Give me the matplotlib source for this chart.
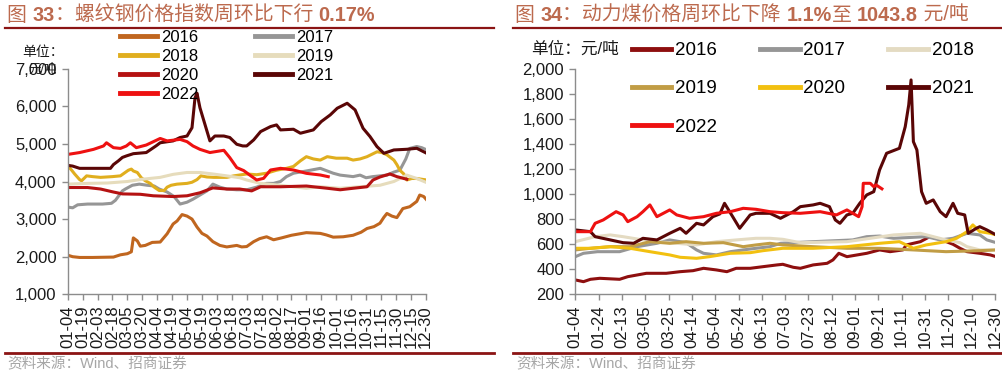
import numpy as np
import matplotlib
matplotlib.use('Agg')
from matplotlib import pyplot as plt
from matplotlib.lines import Line2D

plt.rcParams['font.family'] = ['Liberation Sans', 'Noto Sans CJK SC']

W, H = 1003, 376

# ---- data: 螺纹钢价格指数 (days counted from 01-04) ----
rebar_ticks = ['01-04', '01-19', '02-03', '02-18', '03-05', '03-20', '04-04', '04-19', '05-04',
               '05-19', '06-03', '06-18', '07-03', '07-18', '08-02', '08-17', '09-01', '09-16',
               '10-01', '10-16', '10-31', '11-15', '11-30', '12-15', '12-30']

rebar_2016_d = [0, 5, 12, 25, 46, 53, 60, 64, 66, 70, 73, 78, 85, 93, 100, 106, 110, 115, 120, 125, 130,
                135, 140, 146, 153, 160, 165, 170, 175, 180, 187, 193, 200, 207, 215, 225, 240, 254, 260,
                267, 277, 287, 295, 301, 308, 314, 318, 321, 326, 331, 337, 344, 351, 354, 358, 361]
rebar_2016_v = [2040, 2000, 1980, 1980, 1990, 2050, 2080, 2130, 2500, 2420, 2280, 2300, 2380, 2390, 2610,
                2870, 2950, 3120, 3080, 3000, 2790, 2620, 2550, 2400, 2300, 2260, 2280, 2300, 2260, 2270,
                2400, 2480, 2530, 2450, 2500, 2570, 2640, 2620, 2580, 2520, 2530, 2570, 2650, 2750, 2800,
                2890, 3050, 3150, 3080, 3040, 3280, 3330, 3470, 3640, 3600, 3510]

rebar_2017_d = [0, 5, 10, 20, 35, 44, 48, 55, 58, 65, 72, 80, 87, 92, 100, 107, 113, 120, 126, 133, 140,
                146, 153, 160, 170, 180, 190, 200, 207, 214, 220, 227, 240, 254, 261, 267, 274, 287, 294,
                300, 307, 314, 321, 328, 334, 340, 344, 351, 356, 361]
rebar_2017_v = [3320, 3300, 3380, 3400, 3400, 3420, 3500, 3750, 3800, 3900, 3930, 3900, 3880, 3800, 3720,
                3600, 3400, 3450, 3530, 3640, 3750, 3930, 3850, 3800, 3780, 3780, 3850, 3950, 3950, 4000,
                4130, 4220, 4280, 4350, 4280, 4220, 4170, 4130, 4170, 4100, 4130, 4150, 4170, 4250, 4300,
                4600, 4880, 4930, 4900, 4840]

rebar_2018_d = [0, 4, 7, 12, 14, 19, 25, 33, 45, 53, 61, 64, 66, 70, 74, 78, 83, 87, 92, 97, 100, 104, 110,
                120, 125, 130, 134, 140, 147, 160, 167, 180, 190, 200, 210, 220, 227, 234, 240, 247, 254,
                261, 270, 281, 287, 294, 301, 311, 316, 321, 328, 331, 334, 338, 341, 346, 351, 356, 361]
rebar_2018_v = [4420, 4300, 4200, 4050, 4020, 4150, 4130, 4110, 4130, 4150, 4300, 4330, 4280, 4240, 4100,
                4020, 3950, 3850, 3760, 3760, 3850, 3900, 3930, 3950, 3980, 4050, 4150, 4120, 4110, 4110,
                4150, 4200, 4180, 4220, 4300, 4350, 4400, 4550, 4660, 4600, 4570, 4660, 4620, 4620, 4570,
                4600, 4660, 4790, 4770, 4710, 4570, 4450, 4300, 4200, 4040, 4080, 4080, 4060, 4040]

rebar_2019_d = [0, 20, 40, 60, 75, 93, 106, 120, 133, 146, 160, 173, 180, 194, 214, 230, 240, 254, 274,
                294, 314, 328, 341, 351, 361]
rebar_2019_v = [3930, 3950, 3960, 4000, 4060, 4110, 4190, 4240, 4240, 4200, 4150, 4100, 4040, 3950, 3900,
                3850, 3820, 3860, 3820, 3860, 3900, 4000, 4170, 4080, 3970]

rebar_2020_d = [0, 20, 33, 46, 55, 73, 86, 106, 120, 133, 146, 160, 173, 185, 194, 214, 240, 261, 274, 287,
                301, 307, 314, 324, 331, 338, 341]
rebar_2020_v = [3840, 3840, 3800, 3720, 3670, 3660, 3620, 3600, 3620, 3700, 3830, 3800, 3800, 3750, 3860,
                3860, 3880, 3820, 3780, 3820, 3860, 4040, 4120, 4200, 4130, 4080, 4060]

rebar_2021_d = [0, 5, 12, 30, 43, 46, 51, 55, 59, 66, 79, 89, 93, 106, 113, 120, 125, 128, 130, 133, 138,
                143, 148, 157, 163, 170, 176, 180, 187, 194, 204, 210, 214, 227, 234, 247, 255, 264, 271,
                281, 289, 297, 304, 311, 318, 328, 341, 351, 361]
rebar_2021_v = [4430, 4410, 4350, 4350, 4350, 4450, 4550, 4640, 4680, 4740, 4770, 4950, 5030, 5080, 5170,
                5210, 5430, 6220, 6350, 5960, 5520, 5080, 5210, 5210, 5170, 4990, 4946, 4946, 5106, 5328,
                5461, 5505, 5372, 5390, 5284, 5372, 5594, 5771, 5948, 6081, 5904, 5416, 5195, 4928, 4750,
                4839, 4857, 4883, 4750]

rebar_2022_d = [0, 12, 26, 36, 39, 46, 53, 59, 63, 69, 79, 93, 100, 113, 120, 126, 133, 143, 157, 163, 170,
                177, 183, 190, 197, 204, 214, 227, 240, 254, 262]
rebar_2022_v = [4720, 4770, 4855, 4945, 5030, 4900, 4880, 4945, 5030, 4900, 4970, 5145, 5080, 5120, 5060,
                4945, 4855, 4770, 4830, 4635, 4370, 4290, 4173, 4040, 4084, 4306, 4350, 4306, 4217, 4173,
                4128]

# ---- data: 动力煤价格 ----
coal_ticks = ['01-04', '01-24', '02-13', '03-05', '03-25', '04-14', '05-04', '05-24', '06-13', '07-03',
              '07-23', '08-12', '09-01', '09-21', '10-11', '10-31', '11-20', '12-10', '12-30']

coal_2016_d = [0, 7, 13, 21, 38, 45, 61, 78, 90, 101, 110, 121, 130, 138, 150, 161, 173, 178, 187, 193,
               204, 216, 221, 226, 233, 250, 261, 270, 281, 284, 296, 304, 313, 324, 330, 336, 347, 356, 361]
coal_2016_v = [315, 301, 320, 328, 320, 341, 368, 368, 381, 389, 408, 395, 381, 408, 408, 421, 435, 440,
               416, 408, 435, 448, 475, 528, 501, 528, 555, 541, 555, 595, 621, 661, 640, 600, 568, 541,
               528, 515, 501]

coal_2017_d = [0, 7, 19, 38, 53, 70, 81, 95, 104, 110, 121, 133, 144, 155, 167, 176, 204, 238, 250, 261,
               273, 301, 313, 324, 336, 347, 353, 361]
coal_2017_v = [501, 528, 541, 541, 581, 608, 635, 613, 555, 528, 515, 541, 555, 568, 581, 608, 621, 635,
               661, 666, 648, 661, 635, 648, 688, 675, 635, 613]

coal_2018_d = [0, 17, 30, 41, 58, 70, 87, 104, 121, 138, 155, 167, 178, 193, 233, 273, 296, 318, 330, 336,
               347, 361]
coal_2018_v = [621, 661, 675, 661, 635, 621, 608, 595, 621, 635, 648, 648, 640, 613, 621, 675, 688, 635,
               613, 581, 555, 555]

coal_2019_d = [0, 13, 30, 47, 64, 81, 95, 110, 127, 144, 155, 167, 178, 204, 233, 261, 290, 318, 347, 361]
coal_2019_v = [555, 568, 581, 581, 621, 608, 621, 608, 613, 581, 595, 608, 595, 581, 568, 568, 555, 541,
               549, 555]

coal_2020_d = [0, 13, 30, 47, 64, 81, 90, 104, 115, 133, 150, 161, 178, 204, 233, 261, 278, 290, 301, 318,
               327, 336, 341, 347, 356, 361]
coal_2020_v = [568, 568, 581, 568, 541, 515, 496, 488, 501, 528, 533, 549, 568, 568, 581, 608, 621, 568,
               595, 621, 648, 701, 755, 701, 688, 675]

coal_2021_d = [0, 13, 17, 30, 41, 50, 58, 70, 81, 90, 95, 104, 110, 118, 124, 128, 135, 141, 150, 155, 167,
               176, 187, 193, 204, 210, 218, 223, 227, 233, 238, 244, 250, 256, 261, 267, 278, 283, 286,
               288, 290, 293, 297, 301, 307, 313, 318, 324, 328, 334, 337, 344, 347, 353, 361]
coal_2021_v = [715, 701, 661, 635, 613, 608, 648, 635, 688, 728, 688, 768, 755, 821, 843, 928, 821, 728,
               835, 848, 848, 808, 861, 901, 915, 928, 901, 795, 768, 835, 848, 928, 995, 1021, 1195, 1328,
               1368, 1541, 1715, 1915, 1421, 1355, 1021, 928, 955, 861, 821, 928, 848, 835, 688, 728, 741,
               715, 675]

coal_2022_d = [0, 13, 17, 24, 35, 41, 45, 53, 58, 64, 70, 81, 87, 98, 110, 121, 133, 144, 155, 167, 178,
               193, 210, 224, 233, 238, 243, 246, 247, 253, 256, 258, 263]
coal_2022_v = [701, 701, 768, 795, 861, 835, 781, 821, 861, 915, 821, 875, 835, 808, 821, 848, 861, 888,
               880, 861, 853, 848, 861, 835, 875, 848, 821, 901, 1088, 1088, 1061, 1075, 1043.8]

years = ['2016', '2017', '2018', '2019', '2020', '2021', '2022']
rebar_colors = ['#C0661F', '#969696', '#E0AE1E', '#E6DCBC', '#B51212', '#5A0606', '#EE1111']
coal_colors = ['#8E0F0F', '#969696', '#E4DBC2', '#C19D45', '#F2C010', '#5A0606', '#EE1111']

rebar_series = [(rebar_2016_d, rebar_2016_v), (rebar_2017_d, rebar_2017_v), (rebar_2018_d, rebar_2018_v),
                (rebar_2019_d, rebar_2019_v), (rebar_2020_d, rebar_2020_v), (rebar_2021_d, rebar_2021_v),
                (rebar_2022_d, rebar_2022_v)]
coal_series = [(coal_2016_d, coal_2016_v), (coal_2017_d, coal_2017_v), (coal_2018_d, coal_2018_v),
               (coal_2019_d, coal_2019_v), (coal_2020_d, coal_2020_v), (coal_2021_d, coal_2021_v),
               (coal_2022_d, coal_2022_v)]


def fx(x):
    return x / W


def fy(y):
    return 1 - y / H


def seg_text(fig, x, y, parts, color, size):
    # 逐段写标题, 数字加粗
    r = fig.canvas.get_renderer()
    for s, bold in parts:
        t = fig.text(fx(x), fy(y), s, color=color, fontsize=size, va='baseline', ha='left',
                     fontweight='bold' if bold else 'normal')
        x += t.get_window_extent(r).width


def style_axes(ax, ticks, step, ylo, yhi, ystep):
    for s in ['top', 'right']:
        ax.spines[s].set_visible(False)
    for s in ['left', 'bottom']:
        ax.spines[s].set_color('#8C8C8C')
        ax.spines[s].set_linewidth(1.0)
    ax.set_xlim(0, 360)
    ax.set_ylim(ylo, yhi)
    ax.set_xticks(np.arange(len(ticks)) * step)
    ax.set_xticklabels(ticks, rotation=90)
    ax.set_yticks(np.arange(ylo, yhi + 1, ystep))
    ax.set_yticklabels(['{:,}'.format(v) for v in range(ylo, yhi + 1, ystep)])
    ax.tick_params(axis='both', direction='out', length=4, width=1, color='#8C8C8C',
                   labelsize=12, labelcolor='#1A1A1A', pad=4)
    ax.patch.set_alpha(0)


fig = plt.figure(figsize=(W / 100, H / 100), dpi=100)

ax1 = fig.add_axes([fx(67.7), fy(294.3), fx(425.7 - 67.7), (294.3 - 68.7) / H])
ax2 = fig.add_axes([fx(575.3), fy(294.3), fx(995 - 575.3), (294.3 - 69.3) / H])

h1 = []
for (d, v), c, yr in zip(rebar_series, rebar_colors, years):
    h1 += ax1.plot(d, v, color=c, lw=2.2, label=yr, solid_joinstyle='round')
style_axes(ax1, rebar_ticks, 15, 1000, 7000, 1000)

h2 = []
for (d, v), c, yr in zip(coal_series, coal_colors, years):
    h2 += ax2.plot(d, v, color=c, lw=2.2, label=yr, solid_joinstyle='round')
style_axes(ax2, coal_ticks, 20, 200, 2000, 200)

order1 = [0, 2, 4, 6, 1, 3, 5]
leg1 = ax1.legend([h1[i] for i in order1], [years[i] for i in order1], ncol=2, frameon=False,
                  loc='upper left', bbox_to_anchor=(fx(120), fy(30)), bbox_transform=fig.transFigure,
                  fontsize=12, handlelength=2.2, handletextpad=0.25, columnspacing=3.4,
                  labelspacing=0.24, borderpad=0, borderaxespad=0)
for l in leg1.get_lines():
    l.set_linewidth(3.5)

order2 = [0, 3, 6, 1, 4, 2, 5]
leg2 = ax2.legend([h2[i] for i in order2], [years[i] for i in order2], ncol=3, frameon=False,
                  loc='upper left', bbox_to_anchor=(fx(632), fy(42)), bbox_transform=fig.transFigure,
                  fontsize=13.5, handlelength=2.1, handletextpad=0.2, columnspacing=2.3,
                  labelspacing=1.13, borderpad=0, borderaxespad=0)
for l in leg2.get_lines():
    l.set_linewidth(3.5)

# 单位
fig.text(fx(22), fy(52), '单位：', fontsize=10, va='center', ha='left', color='#1A1A1A')
fig.text(fx(28), fy(70), '元/吨', fontsize=9, va='center', ha='left', color='#1A1A1A')
fig.text(fx(531), fy(49), '单位：元/吨', fontsize=12, va='center', ha='left', color='#1A1A1A')

# 标题
title_c = '#BC6A4E'
seg_text(fig, 7, 21, [('图 ', False), ('33', True), ('：螺纹钢价格指数周环比下行 ', False), ('0.17%', True)],
         title_c, 14.3)
seg_text(fig, 515, 21, [('图 ', False), ('34', True), ('：动力煤价格周环比下降 ', False), ('1.1%', True),
                        ('至 ', False), ('1043.8', True), (' 元/吨', False)], title_c, 14.3)

# 分隔线
rule_c = '#8B1414'
for x0, x1 in [(5, 494), (513, 1003)]:
    fig.add_artist(Line2D([fx(x0), fx(x1)], [fy(27.5), fy(27.5)], color=rule_c, lw=1.6))
    fig.add_artist(Line2D([fx(x0), fx(x1)], [fy(352.5), fy(352.5)], color=rule_c, lw=2.0))

# 资料来源
fig.text(fx(7), fy(364), '资料来源：Wind、招商证券', fontsize=10.5, va='center', ha='left', color='#A6A6A6')
fig.text(fx(516), fy(364), '资料来源：Wind、招商证券', fontsize=10.5, va='center', ha='left', color='#A6A6A6')

plt.savefig('out.png', dpi=100)
